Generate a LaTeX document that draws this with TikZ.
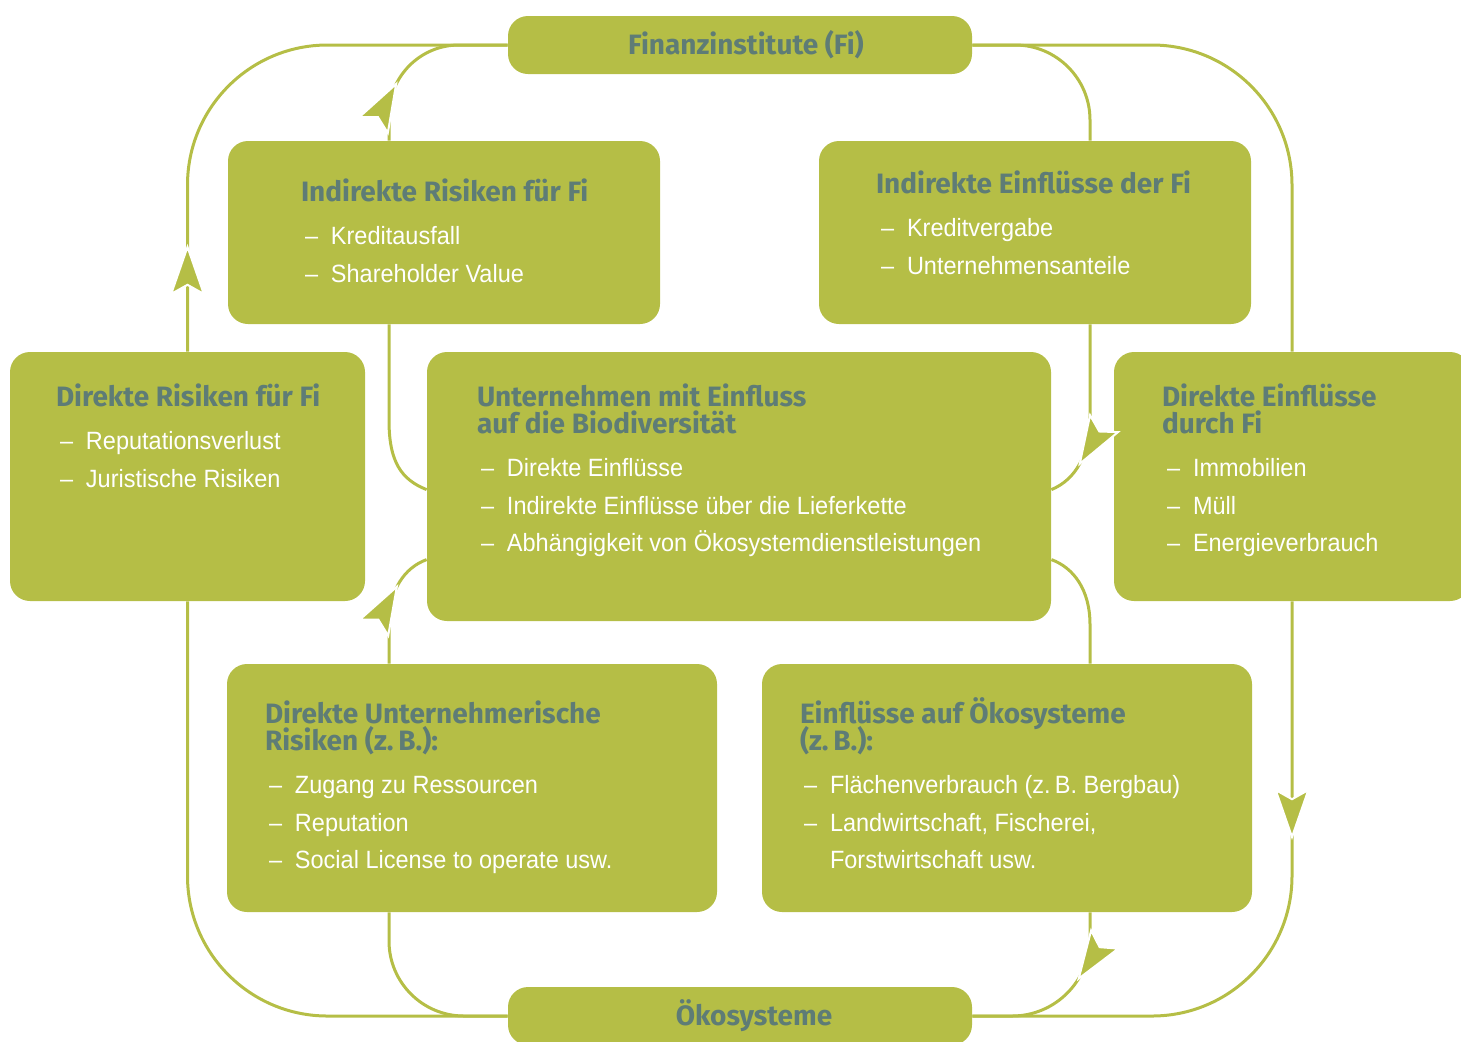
\documentclass[tikz,border=0pt]{standalone}
\usepackage{fontspec}
\newfontfamily\headfont{Fira Sans}
\newfontfamily\bodyfont{Liberation Sans}[FakeStretch=0.94]
\usetikzlibrary{calc}
\usetikzlibrary{arrows.meta}
\usetikzlibrary{decorations.markings}
\definecolor{leaf}{RGB}{181,190,70}
\definecolor{slate}{RGB}{94,124,118}
\newcommand\itm[1]{\makebox[13pt][l]{–}#1}
\newcommand\headsize{\fontsize{14}{13.5}\selectfont\lineskiplimit=-20pt\relax}
\tikzstyle{box} = [rectangle, rounded corners=10pt, fill=leaf, inner sep=0pt]
\tikzstyle{pill} = [box, text=slate, font=\headfont\bfseries\fontsize{14}{13.5}\selectfont]
\tikzstyle{head} = [anchor=base west, inner sep=0pt, align=left, text=slate, font=\headfont\bfseries\headsize]
\tikzstyle{items} = [anchor=base west, inner sep=0pt, align=left, text=white, font=\bodyfont\fontsize{12.5}{18.7}\selectfont]
\tikzstyle{flow} = [draw=leaf, line width=1.5pt]
\tikzset{arrowat/.style={postaction={decorate}, decoration={markings, mark=at position #1 with {\arrow{Stealth[length=26pt,width=18pt,inset=5pt,fill=leaf,color=white,line width=1pt]}}}}}

\begin{document}
\begin{tikzpicture}[x=0.5pt,y=-0.5pt]
\useasboundingbox (0,0) rectangle (1461,1041);

% Rahmen: Finanzinstitute und Oekosysteme
\node (fi) [pill, minimum width=232pt, minimum height=29pt] at (740,45) {\hspace{6pt}Finanzinstitute (Fi)};
\node (oe) [pill, minimum width=232pt, minimum height=29pt] at (740,1016) {\hspace{14pt}\"Okosysteme};

% Kaesten
\node (ir) [box, minimum width=216pt, minimum height=91.5pt] at (444,232.5) {};
\node (ie) [box, minimum width=216pt, minimum height=91.5pt] at (1035,232.5) {};
\node (dr) [box, minimum width=177.5pt, minimum height=124.5pt] at (187.5,476.5) {};
\node (un) [box, minimum width=312pt, minimum height=134.5pt] at (739,486.5) {};
\node (de) [box, minimum width=178pt, minimum height=124.5pt] at (1292,476.5) {};
\node (dur) [box, minimum width=245pt, minimum height=124pt] at (472,788) {};
\node (eo) [box, minimum width=245pt, minimum height=124pt] at (1007,788) {};

% Texte
\node (irh) [head] at ($(ir.north west)+(73,61)$) {Indirekte Risiken f\"ur Fi};
\node (iri) [items] at ($(ir.north west)+(77,141.4)$) {\itm{Kreditausfall}\\\itm{Shareholder Value}};
\node (ieh) [head] at ($(ie.north west)+(57,53)$) {Indirekte Einfl\"usse der Fi};
\node (iei) [items] at ($(ie.north west)+(62,133.4)$) {\itm{Kreditvergabe}\\\itm{Unternehmensanteile}};
\node (drh) [head] at ($(dr.north west)+(46,55)$) {Direkte Risiken f\"ur Fi};
\node (dri) [items] at ($(dr.north west)+(50,135.4)$) {\itm{Reputationsverlust}\\\itm{Juristische Risiken}};
\node (unh) [head] at ($(un.north west)+(50,82)$) {Unternehmen mit Einfluss\\auf die Biodiversit\"at};
\node (uni) [items] at ($(un.north west)+(54,199.8)$) {\itm{Direkte Einfl\"usse}\\\itm{Indirekte Einfl\"usse \"uber die Lieferkette}\\\itm{Abh\"angigkeit von \"Okosystemdienstleistungen}};
\node (deh) [head] at ($(de.north west)+(48,82)$) {Direkte Einfl\"usse\\durch Fi};
\node (dei) [items] at ($(de.north west)+(53,199.8)$) {\itm{Immobilien}\\\itm{M\"ull}\\\itm{Energieverbrauch}};
\node (durh) [head] at ($(dur.north west)+(38,87)$) {Direkte Unternehmerische\\Risiken (z.\,B.):};
\node (duri) [items] at ($(dur.north west)+(42,204.8)$) {\itm{Zugang zu Ressourcen}\\\itm{Reputation}\\\itm{Social License to operate usw.}};
\node (eoh) [head] at ($(eo.north west)+(38,87)$) {Einfl\"usse auf \"Okosysteme\\(z.\,B.):};
\node (eoi) [items] at ($(eo.north west)+(42,204.8)$) {\itm{Fl\"achenverbrauch (z.\,B. Bergbau)}\\\itm{Landwirtschaft, Fischerei,}\\\hspace*{13pt}Forstwirtschaft usw.};

% Hilfspunkte
\coordinate (lx) at (389,0);
\coordinate (rx) at (1090,0);
\coordinate (unwl) at ($(un.north west)+(0,138)$);
\coordinate (unwu) at ($(un.north west)+(0,208)$);
\coordinate (unel) at ($(un.north east)+(0,138)$);
\coordinate (uneu) at ($(un.north east)+(0,208)$);

% aeussere Schleife
\draw [flow, rounded corners=70pt, arrowat=0.19] (dr.north) |- (fi.west);
\draw [flow, rounded corners=70pt] (oe.west) -| (dr.south);
\draw [flow, rounded corners=70pt] (fi.east) -| (de.north);
\draw [flow, rounded corners=70pt, arrowat=0.354] (de.south) |- (oe.east);

% innere Wege
\draw [flow, rounded corners=35pt, arrowat=0.33] (ir.north -| lx) |- (fi.west);
\draw [flow] (ir.south -| lx) -- ++(0,96) .. controls +(0,42) and +(-25,-10) .. (unwl);
\draw [flow, arrowat=0.68] (dur.north -| lx) -- ++(0,-39) .. controls +(0,-35) and +(-22,8) .. (unwu);
\draw [flow, rounded corners=37.5pt] (dur.south -| lx) |- (oe.west);
\draw [flow, rounded corners=37.5pt] (fi.east) -| (ie.north -| rx);
\draw [flow, arrowat=0.8] (ie.south -| rx) -- ++(0,91) .. controls +(0,40) and +(24,-10) .. (unel);
\draw [flow] (eo.north -| rx) -- ++(0,-39) .. controls +(0,-35) and +(22,8) .. (uneu);
\draw [flow, rounded corners=39pt, arrowat=0.38] (eo.south -| rx) |- (oe.east);
\end{tikzpicture}
\end{document}
